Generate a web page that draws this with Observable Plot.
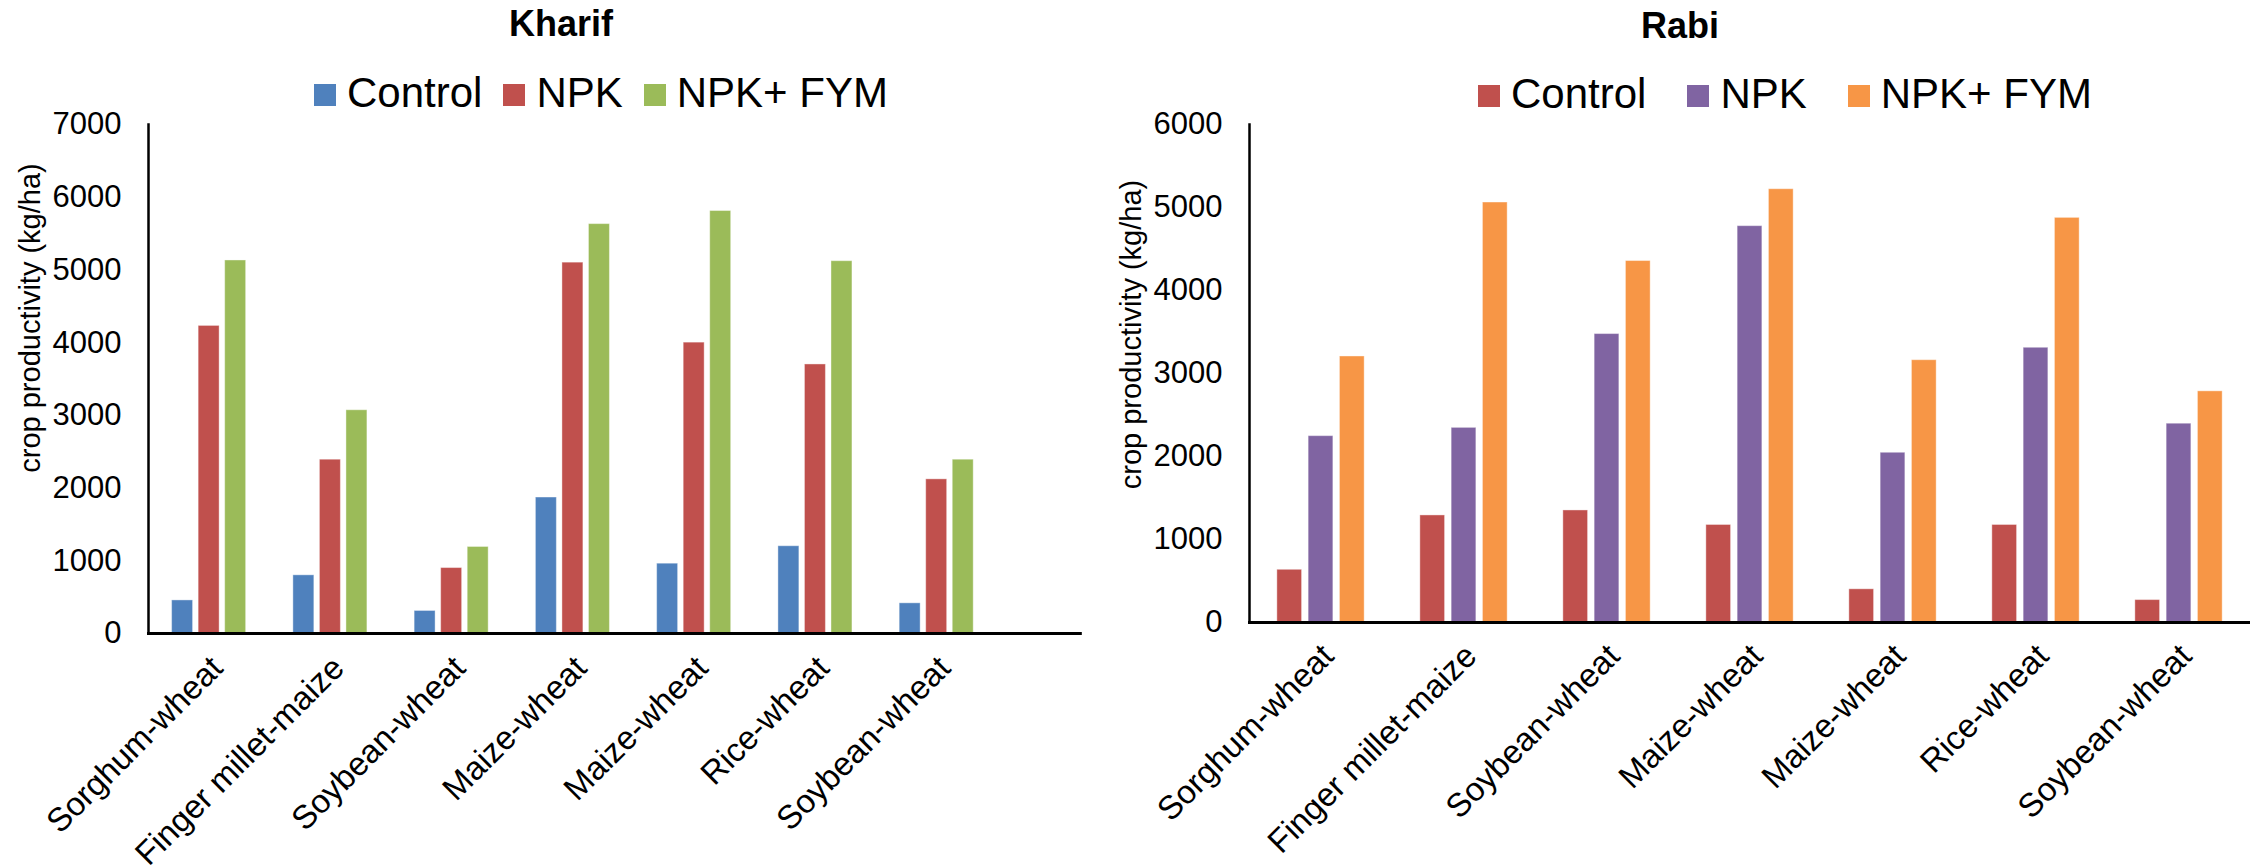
<!DOCTYPE html>
<html>
<head>
<meta charset="utf-8">
<script src="https://cdn.jsdelivr.net/npm/d3@7"></script>
<script src="https://cdn.jsdelivr.net/npm/@observablehq/plot@0.6"></script>
<style>
  body { margin: 0; background: #fff; font-family: "Liberation Sans", Arial, Helvetica, sans-serif; }
  #root { position: relative; width: 2250px; height: 865px; overflow: hidden; background: #fff; }
  .panel { position: absolute; top: 0; }
  .header { position: relative; height: 115px; }
  .title { position: absolute; font-weight: bold; font-size: 36px; line-height: 36px; white-space: nowrap; transform: translateX(-50%); color: #000; }
  .legend { position: absolute; display: flex; align-items: center; font-size: 42px; line-height: 42px; white-space: nowrap; color: #000; }
  .item { display: flex; align-items: center; }
  .sw { width: 22px; height: 22px; margin-right: 11px; margin-top: 3px; }
  svg { display: block; }
</style>
</head>
<body>
<div id="root"></div>
<script>
// ---------- data ----------
const categories = ["Sorghum-wheat", "Finger millet-maize", "Soybean-wheat", "Maize-wheat", "Maize-wheat", "Rice-wheat", "Soybean-wheat"];
const series = ["Control", "NPK", "NPK+ FYM"];

const kharifControl = [455, 800, 310, 1870, 960, 1200, 415];
const kharifNPK     = [4230, 2390, 900, 5100, 4000, 3700, 2120];
const kharifFYM     = [5130, 3070, 1190, 5630, 5810, 5120, 2390];

const rabiControl = [635, 1290, 1350, 1175, 400, 1175, 270];
const rabiNPK     = [2245, 2345, 3475, 4775, 2045, 3310, 2395];
const rabiFYM     = [3205, 5060, 4355, 5220, 3160, 4875, 2785];

const kharifTicks = [0, 1000, 2000, 3000, 4000, 5000, 6000, 7000];
const rabiTicks   = [0, 1000, 2000, 3000, 4000, 5000, 6000];

const kharifColors = ["#4F81BD", "#C0504D", "#9BBB59"];
const rabiColors   = ["#C0504D", "#8064A2", "#F79646"];

const yLabel = "crop productivity (kg/ha)";

// ---------- helpers ----------
const FONT = '"Liberation Sans", Arial, Helvetica, sans-serif';

function buildRows(cols) {
  const rows = [];
  categories.forEach((c, i) => series.forEach((s, j) => rows.push({group: i, series: s, value: cols[j][i]})));
  return rows;
}

function chart(cfg) {
  return Plot.plot({
    width: cfg.width,
    height: 750,
    marginTop: 9,
    marginBottom: cfg.marginBottom,
    marginLeft: cfg.marginLeft,
    marginRight: cfg.marginRight,
    style: {fontFamily: FONT, color: "#000", background: "transparent", overflow: "visible"},
    fx: {domain: d3.range(categories.length), paddingInner: 0, paddingOuter: cfg.fxPadOuter, align: 0, round: false, label: null},
    x: {domain: series, paddingInner: 0.21, paddingOuter: 0.89, round: false, axis: null},
    y: {domain: [0, d3.max(cfg.ticks)]},
    color: {domain: series, range: cfg.colors},
    marks: [
      Plot.barY(cfg.data, {fx: "group", x: "series", y: "value", fill: "series", stroke: "#fff", strokeOpacity: 0.4, strokeWidth: 1}),
      Plot.axisY({ticks: cfg.ticks, tickSize: 0, tickPadding: 27, tickFormat: d3.format("d"), fontSize: 31, label: null}),
      Plot.axisFx({anchor: "bottom", tickSize: 0, tickRotate: -45, tickPadding: cfg.xPad, dx: cfg.xDx, tickFormat: i => categories[i], fontSize: 33, label: null}),
      Plot.frame({anchor: "left", facet: "super", stroke: "#000", strokeWidth: 2.5}),
      Plot.frame({anchor: "bottom", facet: "super", stroke: "#000", strokeWidth: 3, insetRight: cfg.lineExtend}),
      Plot.text([{group: 0, label: yLabel}], {fx: "group", text: "label", frameAnchor: "left", textAnchor: "middle", lineAnchor: "middle", rotate: -90, dx: cfg.ylDx, dy: cfg.ylDy, fontSize: 29, fill: "#000"})
    ]
  });
}

function panel(cfg) {
  const p = document.createElement("div");
  p.className = "panel";
  p.style.left = cfg.left + "px";
  p.style.width = cfg.width + "px";

  const header = document.createElement("div");
  header.className = "header";

  const t = document.createElement("div");
  t.className = "title";
  t.textContent = cfg.title;
  t.style.left = cfg.titleX + "px";
  t.style.top = cfg.titleTop + "px";
  header.appendChild(t);

  const lg = document.createElement("div");
  lg.className = "legend";
  lg.style.left = cfg.legendX + "px";
  lg.style.top = cfg.legendTop + "px";
  series.forEach((s, j) => {
    const it = document.createElement("div");
    it.className = "item";
    if (j < series.length - 1) it.style.marginRight = cfg.legendGap + "px";
    const sw = document.createElement("div");
    sw.className = "sw";
    sw.style.background = cfg.colors[j];
    const lab = document.createElement("span");
    lab.textContent = s;
    it.appendChild(sw);
    it.appendChild(lab);
    lg.appendChild(it);
  });
  header.appendChild(lg);
  p.appendChild(header);
  p.appendChild(chart(cfg));
  return p;
}

const root = document.getElementById("root");

root.appendChild(panel({
  title: "Kharif", left: 0, width: 1100,
  titleX: 561, titleTop: 6, legendX: 314, legendTop: 72, legendGap: 21,
  colors: kharifColors, ticks: kharifTicks,
  data: buildRows([kharifControl, kharifNPK, kharifFYM]),
  marginLeft: 148, marginRight: 20, marginBottom: 232,
  fxPadOuter: 0.343, xPad: 29, xDx: 8, lineExtend: -83,
  ylDx: -118, ylDy: -61
}));

root.appendChild(panel({
  title: "Rabi", left: 1100, width: 1150,
  titleX: 580, titleTop: 8, legendX: 378, legendTop: 73, legendGap: 41,
  colors: rabiColors, ticks: rabiTicks,
  data: buildRows([rabiControl, rabiNPK, rabiFYM]),
  marginLeft: 149, marginRight: 0, marginBottom: 243,
  fxPadOuter: 0, xPad: 28, xDx: 7, lineExtend: 0,
  ylDx: -118, ylDy: -39
}));
</script>
</body>
</html>
